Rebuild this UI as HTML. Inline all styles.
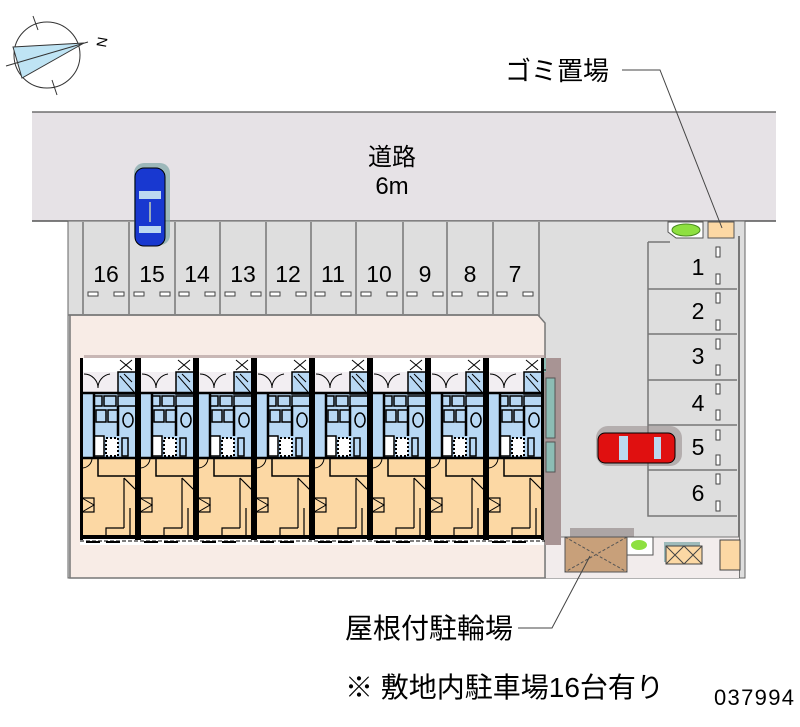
<!DOCTYPE html>
<html><head><meta charset="utf-8"><style>
html,body{margin:0;padding:0;background:#fff;}
svg{display:block;}
text{font-family:"Liberation Sans","Noto Sans CJK JP",sans-serif;}
</style></head><body>
<svg width="800" height="727" viewBox="0 0 800 727" xmlns="http://www.w3.org/2000/svg">
<defs>
<g id="unit">
  <rect x="0" y="0" width="58" height="187" fill="#fff"/>
  <rect x="2" y="35" width="54" height="65" fill="#b8d8f4"/>
  <rect x="2" y="100" width="54" height="80" fill="#fcd8a4"/>
  <rect x="2" y="14" width="54" height="21" fill="#f2eef2"/>
  <path d="M4 16 A14 14 0 0 1 18 30 M30 16 A14 14 0 0 0 18 30" fill="none" stroke="#000" stroke-width="1"/>
  <rect x="38" y="14" width="18" height="22" fill="#b8d8f4" stroke="#000" stroke-width="1.5"/>
  <path d="M40 18 L54 34 M44 16 L52 24" stroke="#000" stroke-width="1"/>
  <rect x="14" y="38" width="8" height="10" fill="none" stroke="#000" stroke-width="1.5"/>
  <rect x="24" y="38" width="12" height="10" fill="none" stroke="#000" stroke-width="1.5"/>
  <rect x="38" y="38" width="18" height="10" fill="none" stroke="#000" stroke-width="1.5"/>
  <rect x="16" y="52" width="10" height="12" fill="none" stroke="#000" stroke-width="1.5"/>
  <rect x="28" y="52" width="10" height="12" fill="none" stroke="#000" stroke-width="1.5"/>
  <ellipse cx="48" cy="62" rx="5" ry="7" fill="none" stroke="#000" stroke-width="1.5"/>
  <rect x="14" y="78" width="10" height="20" fill="#fff" stroke="#000" stroke-width="1.5"/>
  <rect x="26" y="80" width="12" height="18" fill="#fff" stroke="#000" stroke-width="2" stroke-dasharray="2 2"/>
  <rect x="42" y="80" width="6" height="18" fill="none" stroke="#000" stroke-width="1.5"/>
  <path d="M2 100 H56 M2 35 H56 M14 35 V100 M38 48 V78" stroke="#000" stroke-width="2.5"/>
  <path d="M18 100 V118 H56" fill="none" stroke="#000" stroke-width="1.5"/>
  <path d="M2 110 A10 10 0 0 0 12 100" fill="none" stroke="#000" stroke-width="1"/>
  <path d="M44 120 V170 M50 150 V180 M44 120 L56 132" fill="none" stroke="#000" stroke-width="1.2"/>
  <rect x="2" y="140" width="12" height="14" fill="none" stroke="#000" stroke-width="1.2"/>
  <path d="M2 140 L14 147 L2 154" fill="none" stroke="#000" stroke-width="1"/>
  <path d="M26 180 V170 H44" fill="none" stroke="#000" stroke-width="1.2"/>
  <rect x="0" y="0" width="3" height="182" fill="#000"/>
  <rect x="55" y="0" width="3" height="182" fill="#000"/>
  <rect x="0" y="177" width="58" height="4" fill="#000"/>
  <path d="M6 184 H20 M26 184 H40" stroke="#000" stroke-width="2"/>
  <path d="M40 2 L52 12 M52 2 L40 12" stroke="#000" stroke-width="1"/>
</g>
</defs>

<!-- compass -->
<circle cx="47" cy="55" r="33" fill="none" stroke="#333" stroke-width="1"/>
<polygon points="13,47 84,43 22,78" fill="#bfe4f4" stroke="#333" stroke-width="1"/>
<line x1="6" y1="66" x2="88" y2="42" stroke="#333" stroke-width="1"/>
<line x1="33" y1="16" x2="38" y2="30" stroke="#333"/>
<line x1="52" y1="80" x2="57" y2="95" stroke="#333"/>
<text x="96" y="48" font-size="14" transform="rotate(100 102 43)">N</text>

<!-- road -->
<rect x="32" y="112" width="744" height="109" fill="#e6e2e6"/>
<line x1="32" y1="112" x2="776" y2="112" stroke="#555" stroke-width="1.2"/>
<line x1="32" y1="221" x2="776" y2="221" stroke="#555" stroke-width="1.5"/>
<text x="392" y="165" font-size="24" text-anchor="middle">道路</text>
<text x="392" y="194" font-size="24" text-anchor="middle">6m</text>

<!-- lot -->
<rect x="68" y="221" width="677" height="357" fill="#dedede"/>
<rect x="68" y="221" width="677" height="357" fill="none" stroke="#666" stroke-width="1"/>
<line x1="739" y1="236" x2="739" y2="578" stroke="#555" stroke-width="1.5"/>
<path d="M70 315 H538 L545 323 V578 H70 Z" fill="#f8ece6" stroke="#777" stroke-width="1.5"/>
<line x1="68" y1="315" x2="540" y2="315" stroke="#777" stroke-width="1.5"/>

<!-- left stalls -->
<g stroke="#777" stroke-width="1.5">
<line x1="83" y1="222" x2="83" y2="314"/><line x1="129" y1="222" x2="129" y2="314"/><line x1="175" y1="222" x2="175" y2="314"/>
<line x1="220" y1="222" x2="220" y2="314"/><line x1="266" y1="222" x2="266" y2="314"/><line x1="311" y1="222" x2="311" y2="314"/>
<line x1="356" y1="222" x2="356" y2="314"/><line x1="403" y1="222" x2="403" y2="314"/><line x1="447" y1="222" x2="447" y2="314"/>
<line x1="493" y1="222" x2="493" y2="314"/><line x1="539" y1="222" x2="539" y2="314"/>
</g>
<g font-size="23" text-anchor="middle">
<text x="106" y="282">16</text><text x="152" y="282">15</text><text x="197" y="282">14</text><text x="243" y="282">13</text>
<text x="288" y="282">12</text><text x="333" y="282">11</text><text x="379" y="282">10</text><text x="425" y="282">9</text>
<text x="470" y="282">8</text><text x="515" y="282">7</text>
</g>
<g fill="#fff" stroke="#444" stroke-width="1">
<rect x="88" y="292" width="10" height="4"/><rect x="114" y="292" width="10" height="4"/>
<rect x="134" y="292" width="10" height="4"/><rect x="160" y="292" width="10" height="4"/>
<rect x="179" y="292" width="10" height="4"/><rect x="205" y="292" width="10" height="4"/>
<rect x="225" y="292" width="10" height="4"/><rect x="251" y="292" width="10" height="4"/>
<rect x="270" y="292" width="10" height="4"/><rect x="296" y="292" width="10" height="4"/>
<rect x="315" y="292" width="10" height="4"/><rect x="341" y="292" width="10" height="4"/>
<rect x="361" y="292" width="10" height="4"/><rect x="387" y="292" width="10" height="4"/>
<rect x="407" y="292" width="10" height="4"/><rect x="433" y="292" width="10" height="4"/>
<rect x="452" y="292" width="10" height="4"/><rect x="478" y="292" width="10" height="4"/>
<rect x="497" y="292" width="10" height="4"/><rect x="523" y="292" width="10" height="4"/>
</g>

<!-- blue car -->
<rect x="134" y="163" width="36" height="82" rx="10" fill="#7ea6a6" opacity="0.7"/>
<rect x="135" y="168" width="30" height="78" rx="9" fill="#1838d0" stroke="#000"/>
<rect x="139" y="191" width="22" height="8" fill="#bcd8f0"/>
<rect x="139" y="226" width="22" height="7" fill="#bcd8f0"/>
<line x1="150" y1="202" x2="150" y2="222" stroke="#9ab" stroke-width="2"/>

<!-- right stalls -->
<path d="M648 242 V516 H737" fill="none" stroke="#777" stroke-width="1.5"/>
<path d="M648 242 H670" stroke="#777" stroke-width="1.5"/>
<g stroke="#777" stroke-width="1.5">
<line x1="648" y1="289" x2="737" y2="289"/><line x1="648" y1="334" x2="737" y2="334"/>
<line x1="648" y1="380" x2="737" y2="380"/><line x1="648" y1="425" x2="737" y2="425"/>
<line x1="648" y1="470" x2="737" y2="470"/>
</g>
<g fill="#fff" stroke="#444" stroke-width="1">
<rect x="716" y="247" width="4" height="10"/><rect x="716" y="274" width="4" height="10"/>
<rect x="716" y="293" width="4" height="10"/><rect x="716" y="320" width="4" height="10"/>
<rect x="716" y="339" width="4" height="10"/><rect x="716" y="365" width="4" height="10"/>
<rect x="716" y="384" width="4" height="10"/><rect x="716" y="410" width="4" height="10"/>
<rect x="716" y="430" width="4" height="10"/><rect x="716" y="455" width="4" height="10"/>
<rect x="716" y="474" width="4" height="10"/><rect x="716" y="501" width="4" height="10"/>
</g>
<g font-size="23" text-anchor="middle">
<text x="698" y="275">1</text><text x="698" y="319">2</text><text x="698" y="364">3</text>
<text x="698" y="411">4</text><text x="698" y="455">5</text><text x="698" y="501">6</text>
</g>
<!-- red car -->
<rect x="596" y="426" width="86" height="40" rx="12" fill="#8a7e7e" opacity="0.5"/>
<rect x="598" y="433" width="77" height="30" rx="7" fill="#e01010" stroke="#000"/>
<rect x="619" y="436" width="9" height="24" fill="#bcd8f0"/>
<rect x="654" y="437" width="7" height="22" fill="#bcd8f0"/>

<!-- gomi / shrub -->
<path d="M668 222 H703 V238 H676 L668 232 Z" fill="#fff" stroke="#555"/>
<ellipse cx="686" cy="230" rx="14" ry="6" fill="#8ee040" stroke="#4a8a20"/>
<rect x="708" y="222" width="26" height="16" fill="#fcd8a4" stroke="#555"/>

<!-- bottom strip -->
<rect x="546" y="537" width="193" height="41" fill="#f2ecec"/>
<line x1="546" y1="537" x2="739" y2="537" stroke="#777"/>
<rect x="570" y="528" width="64" height="12" fill="#8a7e7e" opacity="0.6"/>
<rect x="565" y="537" width="62" height="35" fill="#c8a07a" stroke="#555"/>
<path d="M565 537 L627 572 M627 537 L565 572" stroke="#555" stroke-dasharray="3 2"/>
<rect x="627" y="537" width="26" height="18" fill="#fff" stroke="#555"/>
<ellipse cx="639" cy="545" rx="8" ry="5" fill="#8ee040"/>
<rect x="664" y="542" width="36" height="20" fill="#7aa6a6" opacity="0.7"/>
<rect x="666" y="546" width="36" height="18" fill="#fcd8a4" stroke="#444"/>
<path d="M666 546 L684 564 M684 546 L666 564 M684 546 L702 564 M702 546 L684 564" stroke="#444"/>
<rect x="720" y="540" width="20" height="30" fill="#fcd8a4" stroke="#444"/>

<!-- building -->
<rect x="545" y="358" width="16" height="187" fill="#a89494"/>
<rect x="84" y="355" width="462" height="5" fill="#a89494" opacity="0.6"/>
<rect x="80" y="358" width="466" height="14" fill="#8cbcb4"/>
<line x1="80" y1="370" x2="546" y2="370" stroke="#000" stroke-dasharray="4 2"/>
<use href="#unit" x="80" y="358"/>
<use href="#unit" x="138" y="358"/>
<use href="#unit" x="196" y="358"/>
<use href="#unit" x="254" y="358"/>
<use href="#unit" x="312" y="358"/>
<use href="#unit" x="370" y="358"/>
<use href="#unit" x="428" y="358"/>
<use href="#unit" x="486" y="358"/>
<rect x="546" y="378" width="9" height="60" fill="#8cbcb4" stroke="#555"/>
<rect x="546" y="442" width="9" height="30" fill="#8cbcb4" stroke="#555"/>
<line x1="80" y1="541" x2="545" y2="541" stroke="#000" stroke-dasharray="4 2"/>

<!-- labels -->
<text x="505" y="80" font-size="26">ゴミ置場</text>
<path d="M622 70 H660 L722 228" fill="none" stroke="#444" stroke-width="1"/>
<text x="345" y="638" font-size="28">屋根付駐輪場</text>
<path d="M518 628 H552 L590 556" fill="none" stroke="#444" stroke-width="1"/>
<text x="345" y="697" font-size="28">※ 敷地内駐車場16台有り</text>
<text x="714" y="705" font-size="22" textLength="80">037994</text>
</svg>
</body></html>
